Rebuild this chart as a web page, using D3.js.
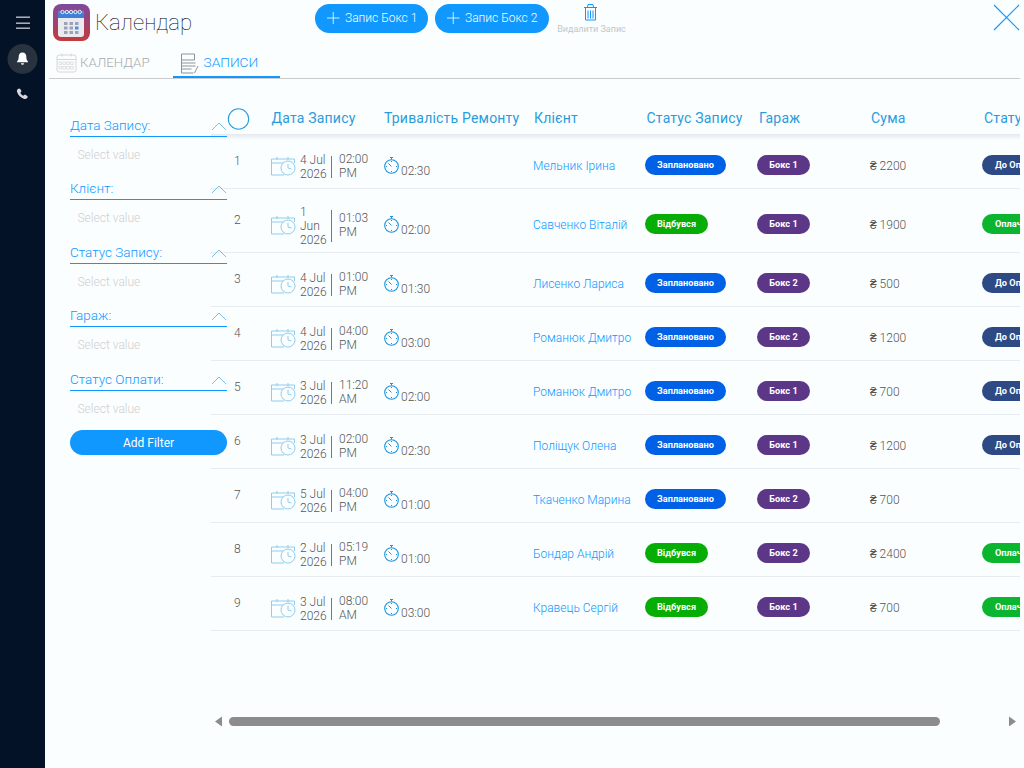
<!DOCTYPE html>
<html>
<head>
<meta charset="utf-8">
<style>
html, body { margin: 0; padding: 0; background: #fbfeff; overflow: hidden; }
text { font-family: Roboto, sans-serif; }
</style>
<script src="https://cdn.jsdelivr.net/npm/d3@7"></script>
</head>
<body>
<div id="chart"></div>
<script>
// table data
const rowIds = [1, 2, 3, 4, 5, 6, 7, 8, 9];
const dates = [["4 Jul", "2026"], ["1", "Jun", "2026"], ["4 Jul", "2026"], ["4 Jul", "2026"], ["3 Jul", "2026"], ["3 Jul", "2026"], ["5 Jul", "2026"], ["2 Jul", "2026"], ["3 Jul", "2026"]];
const times = [["02:00", "PM"], ["01:03", "PM"], ["01:00", "PM"], ["04:00", "PM"], ["11:20", "AM"], ["02:00", "PM"], ["04:00", "PM"], ["05:19", "PM"], ["08:00", "AM"]];
const durations = ["02:30", "02:00", "01:30", "03:00", "02:00", "02:30", "01:00", "01:00", "03:00"];
const clients = ["Мельник Ірина", "Савченко Віталій", "Лисенко Лариса", "Романюк Дмитро", "Романюк Дмитро", "Поліщук Олена", "Ткаченко Марина", "Бондар Андрій", "Кравець Сергій"];
const statuses = ["Заплановано", "Відбувся", "Заплановано", "Заплановано", "Заплановано", "Заплановано", "Заплановано", "Відбувся", "Відбувся"];
const garages = ["Бокс 1", "Бокс 1", "Бокс 2", "Бокс 2", "Бокс 1", "Бокс 1", "Бокс 2", "Бокс 2", "Бокс 1"];
const sums = [2200, 1900, 500, 1200, 700, 1200, 700, 2400, 700];
const payments = ["До Оплати", "Оплачено", "До Оплати", "До Оплати", "До Оплати", "До Оплати", "", "Оплачено", "Оплачено"];

const columns = ["Дата Запису", "Тривалість Ремонту", "Клієнт", "Статус Запису", "Гараж", "Сума", "Статус Оплати"];
const filters = ["Дата Запису:", "Клієнт:", "Статус Запису:", "Гараж:", "Статус Оплати:"];

const blue = "#1098ff", headBlue = "#2a9cdc", grey = "#555";

const svg = d3.select("#chart").append("svg")
    .attr("width", 1024).attr("height", 768)
    .style("display", "block");

const defs = svg.append("defs");
const logoGrad = defs.append("linearGradient").attr("id", "logoGrad")
    .attr("x1", 0).attr("y1", 0).attr("x2", 0).attr("y2", 1);
logoGrad.append("stop").attr("offset", "0%").attr("stop-color", "#7d4a9e");
logoGrad.append("stop").attr("offset", "100%").attr("stop-color", "#c43a3c");
const shadow = defs.append("linearGradient").attr("id", "headShadow")
    .attr("x1", 0).attr("y1", 0).attr("x2", 0).attr("y2", 1);
shadow.append("stop").attr("offset", "0%").attr("stop-color", "#e3e9f0");
shadow.append("stop").attr("offset", "100%").attr("stop-color", "#fbfeff");
defs.append("clipPath").attr("id", "tableClip").append("rect")
    .attr("x", 0).attr("y", 0).attr("width", 1020).attr("height", 768);

//row scales, a row with a three line date is taller
const rowHeights = dates.map(d => d.length > 2 ? 64 : 54);
const rowTops = d3.cumsum([134].concat(rowHeights));
const colX = d3.scaleOrdinal().domain(columns).range([271.5, 384, 534, 646.5, 759, 871, 984]);
const filterY = d3.scalePoint().domain(filters).range([125, 379]);

//sidebar
svg.append("rect").attr("width", 45).attr("height", 768).attr("fill", "#041228");
[17, 23, 28].forEach(y => svg.append("rect").attr("x", 16).attr("y", y - 0.5).attr("width", 14).attr("height", 1.4).attr("fill", "#b9bfc8"));
svg.append("circle").attr("cx", 22.5).attr("cy", 59).attr("r", 15).attr("fill", "#29323f");
svg.append("path").attr("d", "M22.5 52.5c-2.6 0-3.8 2-3.8 4.2 0 2.6-.8 3.8-1.7 4.8v.7h11v-.7c-.9-1-1.7-2.2-1.7-4.8 0-2.2-1.2-4.2-3.8-4.2zM21 63.2h3a1.5 1.5 0 0 1-3 0z").attr("fill", "#fff");
svg.append("path").attr("d", "M18 89c.6-.6 1.6-.8 2.2 0l1 1.4c.4.6.3 1.2-.2 1.7l-.7.7c.6 1.300 1.7 2.400 3 3l.8-.7c.5-.4 1.1-.5 1.700-.1l1.400 1c.7.6.6 1.500 0 2.100-.9.9-1.900 1.200-3 .9-3.300-1-6.200-3.900-7.200-7.200-.3-1.100.1-2 1-2.800z").attr("fill", "#d5d9df");

//logo
svg.append("rect").attr("x", 53).attr("y", 4).attr("width", 37).attr("height", 37).attr("rx", 8).attr("fill", "url(#logoGrad)");
svg.append("rect").attr("x", 58).attr("y", 11).attr("width", 26).attr("height", 26).attr("rx", 3).attr("fill", "#e9ebf1");
svg.append("path").attr("d", "M58 18v-4a3 3 0 0 1 3-3h20a3 3 0 0 1 3 3v4z").attr("fill", "#3f7fd8");
d3.range(5).forEach(i => svg.append("circle").attr("cx", 62.5 + i * 4.3).attr("cy", 12).attr("r", 1.7).attr("fill", "none").attr("stroke", "#e8ecf2"));
d3.range(9).forEach(i => svg.append("rect").attr("x", 64 + (i % 3) * 5.5).attr("y", 22 + Math.floor(i / 3) * 4.5).attr("width", 3.5).attr("height", 3).attr("fill", i === 5 ? "#4a90e0" : "#9aa3b5"));
svg.append("text").attr("x", 95).attr("y", 30).attr("font-size", 22.2).attr("font-weight", 100).attr("fill", "#000").text("Календар");

//top buttons
const topButtons = [{label: "Запис Бокс 1", x: 315, w: 113}, {label: "Запис Бокс 2", x: 435, w: 114}];
topButtons.forEach(b => {
    svg.append("rect").attr("x", b.x).attr("y", 4).attr("width", b.w).attr("height", 29).attr("rx", 14.5).attr("fill", blue);
    svg.append("path").attr("d", `M${b.x + 12} 18h12.500M${b.x + 18.25} 12v12`).attr("stroke", "#fff").attr("stroke-width", 0.8).attr("fill", "none");
    svg.append("text").attr("x", b.x + 30).attr("y", 22).attr("font-size", 12).attr("font-weight", 300).attr("fill", "#fff").text(b.label);
});

//delete icon
svg.append("path").attr("d", "M584 7.5h13M587.500 7.500l.5-3h5l.5 3M585.500 8v12h10v-12M588 10.500v8M590.500 10.500v8M593 10.500v8")
    .attr("fill", "none").attr("stroke", blue).attr("stroke-width", 1);
svg.append("text").attr("x", 591.5).attr("y", 32).attr("text-anchor", "middle").attr("font-size", 9).attr("font-weight", 400).attr("fill", "#c4c6c9").text("Видалити Запис");

//close cross
svg.append("line").attr("x1", 994).attr("y1", 5).attr("x2", 1019).attr("y2", 30).attr("stroke", blue).attr("stroke-width", 1.1);
svg.append("line").attr("x1", 1019).attr("y1", 5).attr("x2", 994).attr("y2", 30).attr("stroke", blue).attr("stroke-width", 1.1);

//tabs
const calX = 57;
svg.append("rect").attr("x", calX).attr("y", 55).attr("width", 19).attr("height", 17).attr("rx", 2).attr("fill", "none").attr("stroke", "#d4d6d8");
svg.append("path").attr("d", `M${calX} 59.500h19M${calX + 5} 53.500v3M${calX + 14} 53.500v3`).attr("stroke", "#d4d6d8");
d3.range(8).forEach(i => svg.append("rect").attr("x", calX + 2 + (i % 4) * 3.9).attr("y", 62 + Math.floor(i / 4) * 4.5).attr("width", 2.5).attr("height", 2.5).attr("fill", "none").attr("stroke", "#d4d6d8").attr("stroke-width", 0.7));
svg.append("text").attr("x", 80).attr("y", 67).attr("font-size", 13.3).attr("font-weight", 300).attr("fill", "#a9abae").text("КАЛЕНДАР");
svg.append("path").attr("d", "M181.500 54h13v6h-13zM181.500 60v13h12M181.500 63h14M181.500 66h14M181.500 69h10M198 66l-3.500 7")
    .attr("fill", "none").attr("stroke", "#8f9499").attr("stroke-width", 1);
svg.append("text").attr("x", 203.5).attr("y", 67).attr("font-size", 13.7).attr("font-weight", 300).attr("fill", blue).text("ЗАПИСИ");
svg.append("rect").attr("x", 49).attr("y", 78).attr("width", 971).attr("height", 1).attr("fill", "#c9cbcd");
svg.append("rect").attr("x", 173).attr("y", 76).attr("width", 107).attr("height", 2).attr("fill", blue);

//table
const table = svg.append("g").attr("clip-path", "url(#tableClip)");

table.append("rect").attr("x", 211).attr("y", 134).attr("width", 809).attr("height", 6).attr("fill", "url(#headShadow)");
table.append("circle").attr("cx", 238.5).attr("cy", 119).attr("r", 10.2).attr("fill", "#fbfeff").attr("stroke", "#2a9cdc").attr("stroke-width", 1.1);

table.selectAll("text.head").data(columns).join("text")
    .attr("class", "head")
    .attr("x", d => colX(d))
    .attr("y", 123)
    .attr("font-size", 14)
    .attr("font-weight", 400)
    .attr("letter-spacing", 0.2)
    .attr("fill", headBlue)
    .text(d => d);

const statusColor = d3.scaleOrdinal().domain(["Заплановано", "Відбувся"]).range(["#0060e6", "#05ad05"]);
const statusWidth = d3.scaleOrdinal().domain(["Заплановано", "Відбувся"]).range([81, 63]);
const paymentColor = d3.scaleOrdinal().domain(["До Оплати", "Оплачено"]).range(["#2d4a85", "#0bb52f"]);

function pill(g, x, w, cy, color, label, padded) {
    g.append("rect").attr("x", x).attr("y", cy - 10).attr("width", w).attr("height", 20).attr("rx", 10).attr("fill", color);
    g.append("text")
        .attr("x", padded ? x + 13 : x + w / 2)
        .attr("y", cy + 3)
        .attr("text-anchor", padded ? "start" : "middle")
        .attr("font-size", 9.2)
        .attr("font-weight", 700)
        .attr("fill", "#fff")
        .text(label);
}

function calIcon(g, cy) {
    const s = "#8fcdee";
    g.append("path").attr("d", `M284 ${cy + 9}h-12.500v-16h23v4M271.500 ${cy - 3}h18M277 ${cy - 9}v3M288 ${cy - 9}v3`)
        .attr("fill", "none").attr("stroke", s).attr("stroke-width", 1);
    g.append("circle").attr("cx", 288).attr("cy", cy + 2).attr("r", 7).attr("fill", "#fbfeff").attr("stroke", s);
    g.append("path").attr("d", `M288 ${cy - 2}v4l3.500 1`).attr("fill", "none").attr("stroke", s);
}

function watchIcon(g, cy) {
    g.append("circle").attr("cx", 391.5).attr("cy", cy).attr("r", 6.8).attr("fill", "none").attr("stroke", "#1f93d8").attr("stroke-width", 1.1);
    g.append("path").attr("d", `M390 ${cy - 9}h3M391.500 ${cy - 9}v2M391.500 ${cy}l-3-3M391.500 ${cy - 5.500}v1M391.500 ${cy + 4.500}v1M386 ${cy}h1M396 ${cy}h1`).attr("fill", "none").attr("stroke", "#1f93d8");
}

rowIds.forEach((id, i) => {
    const top = rowTops[i], h = rowHeights[i], c = top + h / 2;
    const g = table.append("g");
    g.append("rect").attr("x", 211).attr("y", top + h).attr("width", 809).attr("height", 1).attr("fill", "#e6ebf0");
    g.append("text").attr("x", 234).attr("y", c + 4).attr("font-size", 12).attr("font-weight", 300).attr("fill", grey).text(id);
    calIcon(g, c + 5);
    const dateLines = dates[i];
    dateLines.forEach((t, k) => {
        g.append("text").attr("x", 300).attr("y", c + 9.5 + (k - (dateLines.length - 1) / 2) * 14)
            .attr("font-size", 12).attr("font-weight", 300).attr("fill", grey).text(t);
    });
    const barH = dateLines.length * 10 + 2;
    g.append("rect").attr("x", 331).attr("y", c + 6 - barH / 2).attr("width", 1).attr("height", barH).attr("fill", "#2a8fd0");
    times[i].forEach((t, k) => {
        g.append("text").attr("x", 339).attr("y", c + 2 + k * 14)
            .attr("font-size", 12).attr("font-weight", 300).attr("fill", grey).text(t);
    });
    watchIcon(g, c + 5.5);
    g.append("text").attr("x", 401).attr("y", c + 13.5).attr("font-size", 12).attr("font-weight", 300).attr("fill", grey).text(durations[i]);
    g.append("text").attr("x", 533).attr("y", c + 8.5).attr("font-size", 12).attr("font-weight", 300).attr("fill", blue).text(clients[i]);
    pill(g, 645, statusWidth(statuses[i]), c + 4, statusColor(statuses[i]), statuses[i], false);
    pill(g, 757, 53, c + 4, "#5d3787", garages[i], false);
    g.append("text").attr("x", 870).attr("y", c + 8.5).attr("font-size", 12).attr("font-weight", 300).attr("fill", grey).text("₴ " + sums[i]);
    if (payments[i]) pill(g, 982, 70, c + 4, paymentColor(payments[i]), payments[i], true);
});

//filters go above the table, their rows overlap
filters.forEach(f => {
    const y = Math.floor(filterY(f));
    svg.append("text").attr("x", 70).attr("y", y + 4.5).attr("font-size", 13.5).attr("font-weight", 300).attr("fill", blue).text(f);
    svg.append("rect").attr("x", 70).attr("y", y + 11).attr("width", 157).attr("height", 1).attr("fill", blue);
    svg.append("path").attr("d", `M212 ${y + 5}l7-7 7 7`).attr("fill", "none").attr("stroke", "#5cb0e0").attr("stroke-width", 0.8);
    svg.append("text").attr("x", 77.5).attr("y", y + 34).attr("font-size", 12).attr("font-weight", 300).attr("fill", "#cfcfcf").text("Select value");
});
svg.append("rect").attr("x", 70).attr("y", 430).attr("width", 157).attr("height", 25).attr("rx", 12.5).attr("fill", blue);
svg.append("text").attr("x", 148.5).attr("y", 446.5).attr("text-anchor", "middle").attr("font-size", 12).attr("font-weight", 400).attr("fill", "#fff").text("Add Filter");

//scrollbar
svg.append("path").attr("d", "M215 721.500l7-5v10z").attr("fill", "#8c8c8c");
svg.append("rect").attr("x", 229).attr("y", 717).attr("width", 711).attr("height", 9).attr("rx", 4.5).attr("fill", "#8c8c8c");
svg.append("path").attr("d", "M1016 721.500l-7-5v10z").attr("fill", "#8c8c8c");
</script>
</body>
</html>
